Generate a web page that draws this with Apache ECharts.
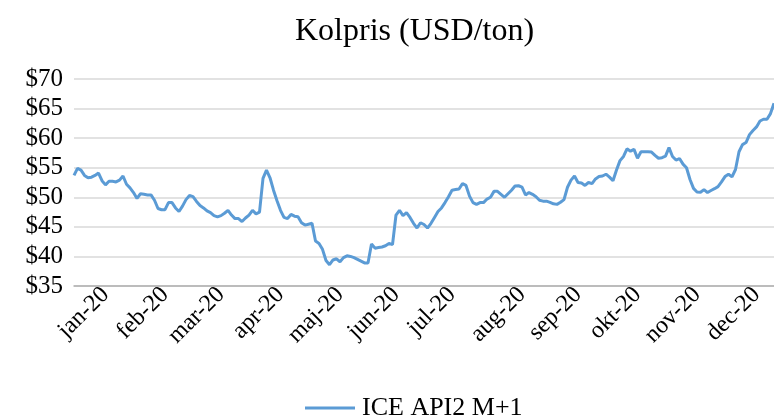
<!DOCTYPE html>
<html>
<head>
<meta charset="utf-8">
<script src="https://cdn.jsdelivr.net/npm/echarts@6/dist/echarts.min.js"></script>
<style>html,body{margin:0;padding:0;background:#fff}#c{width:774px;height:419px}</style>
</head>
<body>
<div id="c"></div>
<script>
var seriesName = 'ICE API2 M+1';
var prices = [
53.7,54.9,54.6,53.7,53.3,53.4,53.7,54.1,52.8,52.1,
52.7,52.7,52.6,52.9,53.6,52.2,51.6,50.8,49.8,50.6,
50.5,50.4,50.4,49.5,48.1,47.9,47.9,49.1,49.1,48.2,
47.6,48.5,49.6,50.3,50.1,49.3,48.6,48.2,47.7,47.4,
46.9,46.7,46.9,47.3,47.8,47.0,46.4,46.4,45.9,46.5,
47.0,47.8,47.2,47.5,53.2,54.6,53.3,51.2,49.4,47.8,
46.6,46.4,47.1,46.8,46.7,45.7,45.3,45.45,45.6,42.6,
42.2,41.2,39.3,38.6,39.4,39.6,39.1,39.8,40.1,40.0,
39.8,39.5,39.2,38.9,38.9,42.1,41.4,41.5,41.6,41.8,
42.2,42.0,47.0,47.8,46.9,47.4,46.6,45.6,44.8,45.7,
45.4,44.8,45.6,46.6,47.6,48.2,49.1,50.1,51.2,51.3,
51.4,52.3,52.0,50.2,49.1,48.8,49.1,49.1,49.7,50.0,
51.0,51.0,50.5,50.0,50.6,51.2,51.9,51.95,51.7,50.4,
50.8,50.5,50.1,49.5,49.35,49.35,49.15,48.9,48.8,49.15,
49.6,51.7,52.9,53.6,52.5,52.4,52.0,52.5,52.3,53.1,
53.5,53.6,53.9,53.4,52.8,54.6,56.2,56.9,58.2,57.8,
58.1,56.6,57.7,57.7,57.7,57.65,57.1,56.6,56.7,56.95,
58.4,56.9,56.3,56.55,55.6,55.0,53.0,51.5,50.9,50.85,
51.3,50.8,51.15,51.45,51.8,52.6,53.5,53.9,53.45,54.7,
57.7,58.9,59.25,60.6,61.3,61.9,62.9,63.2,63.2,64.15,
65.9
];
var monthLabels = ['jan-20','feb-20','mar-20','apr-20','maj-20','jun-20','jul-20','aug-20','sep-20','okt-20','nov-20','dec-20'];
var monthIndex = [9,26,42,59,76,92,108,128,144,161,178,195];
var yTicks = [35,40,45,50,55,60,65,70];

var categories = prices.map(function(_, i){ return i; });
var labelAt = {};
monthIndex.forEach(function(ix, k){ labelAt[ix] = monthLabels[k]; });

var serif = 'Liberation Serif';
var chart = echarts.init(document.getElementById('c'), null, {renderer:'canvas'});
chart.setOption({
  animation: false,
  backgroundColor: '#fff',
  title: {
    text: 'Kolpris (USD/ton)',
    left: 290,
    top: 11,
    textStyle: {fontFamily: serif, fontSize: 32, fontWeight: 'normal', color: '#000'}
  },
  legend: {
    top: 390,
    left: 300,
    icon: 'rect',
    itemWidth: 50,
    itemHeight: 3,
    itemGap: 10,
    textStyle: {fontFamily: serif, fontSize: 26, color: '#000', padding: [0,0,0,2]},
    data: [seriesName]
  },
  grid: {left: 74, right: 0, top: 79, bottom: 133, containLabel: false},
  xAxis: {
    type: 'category',
    data: categories,
    boundaryGap: false,
    axisLine: {show: true, lineStyle: {color: '#b0b0b0', width: 1.5}},
    axisTick: {show: false},
    axisLabel: {
      interval: function(idx){ return labelAt[idx] !== undefined; },
      formatter: function(v, idx){ return labelAt[idx] || ''; },
      rotate: 45,
      margin: 5,
      fontFamily: serif,
      fontSize: 24,
      color: '#000'
    },
    splitLine: {show: false}
  },
  yAxis: {
    type: 'value',
    min: yTicks[0],
    max: yTicks[yTicks.length-1],
    interval: 5,
    axisLine: {show: false},
    axisTick: {show: false},
    axisLabel: {
      formatter: function(v){ return '$' + v; },
      fontFamily: serif,
      fontSize: 25,
      color: '#000',
      margin: 11
    },
    splitLine: {lineStyle: {color: '#d9d9d9', width: 1.5}}
  },
  series: [{
    name: seriesName,
    type: 'line',
    data: prices,
    showSymbol: false,
    symbol: 'none',
    lineStyle: {color: '#5b9bd5', width: 3},
    itemStyle: {color: '#5b9bd5'}
  }]
});
</script>
</body>
</html>
